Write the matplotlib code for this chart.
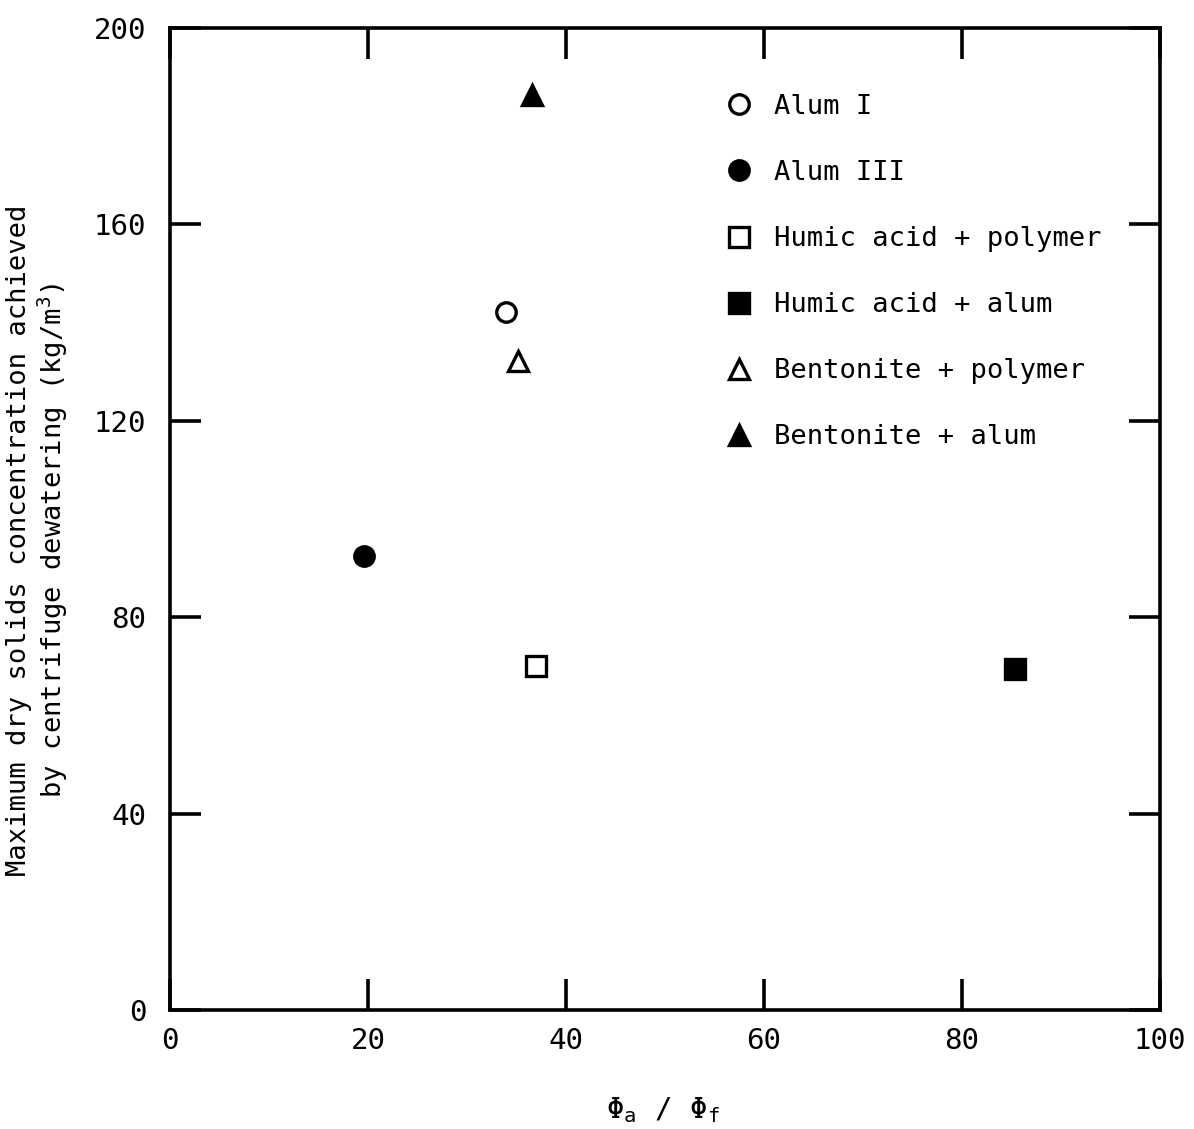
import matplotlib
matplotlib.use("Agg")
import matplotlib.pyplot as plt

plt.rcParams["font.family"] = ["DejaVu Sans Mono"]
plt.rcParams["mathtext.fontset"] = "custom"
plt.rcParams["mathtext.rm"] = "DejaVu Sans Mono"
plt.rcParams["mathtext.it"] = "DejaVu Sans Mono"

# Data series: (phi_a / phi_f, max dry solids concentration kg/m3)
series_labels = ["Alum I", "Alum III", "Humic acid + polymer",
                 "Humic acid + alum", "Bentonite + polymer", "Bentonite + alum"]
x_values = [33.9, 19.6, 37.0, 85.4, 35.2, 36.6]
y_values = [142.2, 92.5, 70.0, 69.5, 132.2, 186.4]
markers = ["o", "o", "s", "s", "^", "^"]
filled = [False, True, False, True, False, True]

x_ticks = [0, 20, 40, 60, 80, 100]
y_ticks = [0, 40, 80, 120, 160, 200]

fig = plt.figure(figsize=(11.94, 11.29), dpi=100)
ax = fig.add_axes([170 / 1194, 1 - 1010 / 1129, 990 / 1194, (1010 - 28) / 1129])

for lab, xv, yv, m, f in zip(series_labels, x_values, y_values, markers, filled):
    ax.plot([xv], [yv], linestyle="none", marker=m, markersize=14 if m != "^" else 15,
            markeredgewidth=2.4, markeredgecolor="black",
            markerfacecolor="black" if f else "white", label=lab)

ax.set_xlim(0, 100)
ax.set_ylim(0, 200)
ax.set_xticks(x_ticks)
ax.set_yticks(y_ticks)

for sp in ax.spines.values():
    sp.set_linewidth(2.6)

ax.tick_params(axis="both", direction="in", length=22, width=2.6,
               top=True, right=True, labelsize=21)
ax.tick_params(axis="x", pad=12)
ax.tick_params(axis="y", pad=17)

leg = ax.legend(loc="upper left", bbox_to_anchor=(0.550, 0.944), frameon=False,
                fontsize=19.5, labelspacing=1.48, handletextpad=0.8,
                handlelength=1.0, borderaxespad=0, numpoints=1)

fig.text(38 / 1194, 1 - 540 / 1129,
         "Maximum dry solids concentration achieved\nby centrifuge dewatering (kg/m$^3$)",
         rotation=90, ha="center", va="center", fontsize=19.5,
         multialignment="center", linespacing=1.1)

fig.text(663 / 1194, 1 - 1110 / 1129, "Φ$_\\mathrm{a}$ / Φ$_\\mathrm{f}$",
         ha="center", va="center", fontsize=21)

fig.savefig("out.png", dpi=100)
